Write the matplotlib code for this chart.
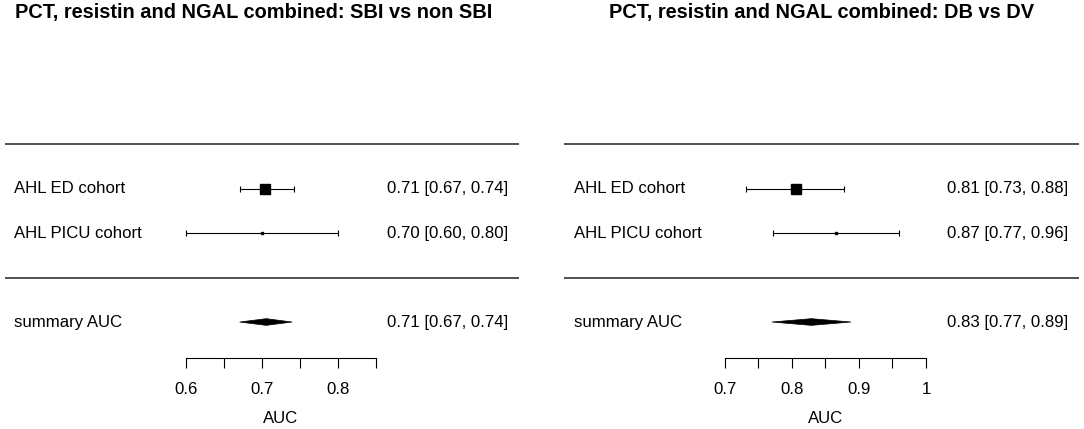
import matplotlib
matplotlib.use('Agg')
import matplotlib.pyplot as plt
import matplotlib.transforms as mtransforms
import numpy as np

plt.rcParams['font.family'] = ['Liberation Sans', 'DejaVu Sans']

# ---------------- data ----------------
study_labels = ["AHL ED cohort", "AHL PICU cohort"]
summary_label = "summary AUC"

title_sbi = "PCT, resistin and NGAL combined: SBI vs non SBI"
est_sbi = [0.705, 0.701]
lo_sbi = [0.671, 0.601]
hi_sbi = [0.742, 0.800]
text_sbi = ["0.71 [0.67, 0.74]", "0.70 [0.60, 0.80]"]
sum_sbi = [0.706, 0.671, 0.740]          # estimate, lower, upper
sum_text_sbi = "0.71 [0.67, 0.74]"
ticks_sbi = [0.60, 0.65, 0.70, 0.75, 0.80, 0.85]
ticklabels_sbi = ["0.6", "", "0.7", "", "0.8", ""]

title_db = "PCT, resistin and NGAL combined: DB vs DV"
est_db = [0.806, 0.866]
lo_db = [0.732, 0.772]
hi_db = [0.878, 0.960]
text_db = ["0.81 [0.73, 0.88]", "0.87 [0.77, 0.96]"]
sum_db = [0.829, 0.770, 0.888]
sum_text_db = "0.83 [0.77, 0.89]"
ticks_db = [0.70, 0.75, 0.80, 0.85, 0.90, 0.95, 1.00]
ticklabels_db = ["0.7", "", "0.8", "", "0.9", "", "1"]

xlabel = "AUC"

# ---------------- style / layout ----------------
W, H = 1084, 429
FS = 12.1
TFS = 14.4
square_sizes = [7.2, 1.6]
rows = [2, 1]
sum_row = -1
ylim = (-3.404, 6.236)

fig = plt.figure(figsize=(W / 100, H / 100), dpi=100)


def panel(px0, px1, xlim, title, title_frac, est, lo, hi, texts, summ, sum_text, ticks,
          ticklabels, label_frac, text_frac):
    ax = fig.add_axes([px0 / W, 0, (px1 - px0) / W, 1])
    ax.set_xlim(*xlim)
    ax.set_ylim(*ylim)
    for s in ['top', 'left', 'right']:
        ax.spines[s].set_visible(False)
    ax.set_yticks([])
    ax.patch.set_alpha(0)

    tr = mtransforms.blended_transform_factory(ax.transAxes, ax.transData)

    # separator lines
    ax.axhline(3.0, color='#222222', lw=1.1)
    ax.axhline(-0.02, color='#222222', lw=1.1)

    # studies
    for i, r in enumerate(rows):
        ax.errorbar([est[i]], [r], xerr=[[est[i] - lo[i]], [hi[i] - est[i]]],
                    fmt='none', ecolor='black', elinewidth=0.8, capsize=2.2, capthick=0.8)
        ax.plot([est[i]], [r], marker='s', color='black', markersize=square_sizes[i],
                linestyle='none')
        ax.text(label_frac, r, study_labels[i], transform=tr, ha='left', va='center', fontsize=FS)
        ax.text(text_frac, r, texts[i], transform=tr, ha='right', va='center', fontsize=FS)

    # summary diamond
    e, l, h = summ
    dh = 0.075
    ax.fill([l, e, h, e], [sum_row, sum_row + dh, sum_row, sum_row - dh],
            color='black', lw=0.5)
    ax.text(label_frac, sum_row, summary_label, transform=tr, ha='left', va='center', fontsize=FS)
    ax.text(text_frac, sum_row, sum_text, transform=tr, ha='right', va='center', fontsize=FS)

    # x axis
    ax.spines['bottom'].set_position(('data', -1.8))
    ax.spines['bottom'].set_bounds(ticks[0], ticks[-1])
    ax.spines['bottom'].set_linewidth(0.8)
    ax.set_xticks(ticks)
    ax.set_xticklabels(ticklabels, fontsize=FS)
    ax.tick_params(axis='x', direction='out', length=7.2, width=0.8, pad=10.5)
    ax.text((ticks[0] + ticks[-1]) / 2, -3.16, xlabel, ha='center', va='center', fontsize=FS)

    # title
    ax.text(title_frac, 5.825, title, transform=tr, ha='center', va='baseline', fontsize=TFS,
            fontweight='bold')
    return ax


panel(5, 519, (0.3622, 1.0386), title_sbi, 0.484, est_sbi, lo_sbi, hi_sbi, text_sbi,
      sum_sbi, sum_text_sbi, ticks_sbi, ticklabels_sbi, 0.0175, 0.9786)
panel(564, 1079, (0.4597, 1.2284), title_db, 0.5, est_db, lo_db, hi_db, text_db,
      sum_db, sum_text_db, ticks_db, ticklabels_db, 0.0194, 0.9786)

fig.savefig('out.png', dpi=100)
